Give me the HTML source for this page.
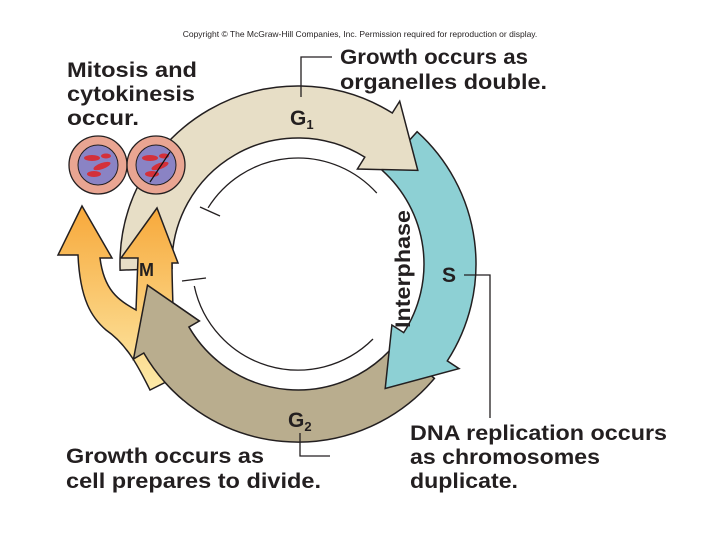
<!DOCTYPE html>
<html><head><meta charset="utf-8"><style>
body{margin:0;background:#fff;width:720px;height:540px;overflow:hidden}
svg{display:block}
text{font-family:"Liberation Sans",sans-serif;font-weight:bold;fill:#231f20}
</style></head><body>
<svg id="s" width="720" height="540" viewBox="0 0 720 540">
<defs>
<linearGradient id="mg" x1="0" y1="0" x2="0" y2="1"><stop offset="0" stop-color="#f7a83a"/><stop offset="1" stop-color="#fdeaa8"/></linearGradient>
</defs>
<g id="bands"></g>
<text x="360" y="37" font-size="8.5" text-anchor="middle" style="font-weight:normal">Copyright © The McGraw-Hill Companies, Inc. Permission required for reproduction or display.</text>
<g font-size="21">
<text x="67" y="77" textLength="130" lengthAdjust="spacingAndGlyphs">Mitosis and</text><text x="67" y="101" textLength="128" lengthAdjust="spacingAndGlyphs">cytokinesis</text><text x="67" y="125" textLength="72" lengthAdjust="spacingAndGlyphs">occur.</text>
<text x="340" y="64" textLength="188" lengthAdjust="spacingAndGlyphs">Growth occurs as</text><text x="340" y="89" textLength="207" lengthAdjust="spacingAndGlyphs">organelles double.</text>
<text x="410" y="440" textLength="257" lengthAdjust="spacingAndGlyphs">DNA replication occurs</text><text x="410" y="464" textLength="190" lengthAdjust="spacingAndGlyphs">as chromosomes</text><text x="410" y="488" textLength="108" lengthAdjust="spacingAndGlyphs">duplicate.</text>
<text x="66" y="463" textLength="198" lengthAdjust="spacingAndGlyphs">Growth occurs as</text><text x="66" y="488" textLength="255" lengthAdjust="spacingAndGlyphs">cell prepares to divide.</text>
<text x="290" y="125">G<tspan font-size="13" dy="4">1</tspan></text>
<text x="288" y="427">G<tspan font-size="13" dy="4">2</tspan></text>
<text x="442" y="282">S</text>
<text x="139" y="276" font-size="18">M</text>
<text transform="translate(410,328) rotate(-90)" font-size="21" textLength="118" lengthAdjust="spacingAndGlyphs">Interphase</text>
</g>
<g stroke="#231f20" stroke-width="1.3" fill="none">
<polyline points="301,97 301,57 332,57"/>
<polyline points="464,275 490,275 490,418"/>
<polyline points="300,433 300,456 330,456"/>
</g>
<g stroke="#231f20" stroke-width="1.3" fill="#e9a592"><circle cx="98" cy="165" r="29"/><circle cx="156" cy="165" r="29"/></g>
<g stroke="#231f20" stroke-width="1" fill="#8a83c4"><circle cx="98" cy="165" r="20"/><circle cx="156" cy="165" r="20"/></g>
<g fill="#d4303a">
<ellipse cx="92" cy="158" rx="8" ry="3"/><ellipse cx="102" cy="166" rx="9" ry="3" transform="rotate(-20 102 166)"/><ellipse cx="94" cy="174" rx="7" ry="3"/><ellipse cx="106" cy="156" rx="5" ry="2.5"/>
<ellipse cx="150" cy="158" rx="8" ry="3"/><ellipse cx="160" cy="166" rx="9" ry="3" transform="rotate(-20 160 166)"/><ellipse cx="152" cy="174" rx="7" ry="3"/><ellipse cx="164" cy="156" rx="5" ry="2.5"/>
</g>
<line x1="170" y1="152" x2="150" y2="182" stroke="#111" stroke-width="1.2"/>
</svg>
<script>
var cx=298,cy=264,R1=126,R2=178;
function P(a,r){var t=a*Math.PI/180;return (cx+r*Math.cos(t)).toFixed(1)+','+(cy+r*Math.sin(t)).toFixed(1);}
function band(a0,a1,h,w,col){
 var b=a1-h,d='M'+P(a0,R2)+' A'+R2+','+R2+' 0 0 1 '+P(b,R2);
 d+=' L'+P(b,R2+w)+' L'+P(a1,(R1+R2)/2)+' L'+P(b,R1-w)+' L'+P(b,R1);
 d+=' A'+R1+','+R1+' 0 0 0 '+P(a0,R1)+' Z';
 return '<path d="'+d+'" fill="'+col+'" stroke="#231f20" stroke-width="1.5"/>';
}
function head(a0,a1,h,w,col){
 var b=a1-h;
 var f='M'+P(a0,R2)+' A'+R2+','+R2+' 0 0 1 '+P(b,R2)+' L'+P(b,R2+w)+' L'+P(a1,(R1+R2)/2)+' L'+P(b,R1-w)+' L'+P(b,R1)+' A'+R1+','+R1+' 0 0 0 '+P(a0,R1)+' Z';
 var o1='M'+P(a0,R2)+' A'+R2+','+R2+' 0 0 1 '+P(b,R2)+' L'+P(b,R2+w)+' L'+P(a1,(R1+R2)/2)+' L'+P(b,R1-w)+' L'+P(b,R1)+' A'+R1+','+R1+' 0 0 0 '+P(a0,R1);
 return '<path d="'+f+'" fill="'+col+'"/><path d="'+o1+'" fill="none" stroke="#231f20" stroke-width="1.5"/>';
}
var g='';
g+=band(40,172,22,12,'#b9ad8e');
g+=band(312,415,22,14,'#8dd0d4');
g+=band(178,322,20,14,'#e7dec6');
var r=106;
g+='<path d="M'+P(212,r)+' A'+r+','+r+' 0 0 1 '+P(318,r)+'" fill="none" stroke="#231f20" stroke-width="1.3"/>';
g+='<path d="M'+P(45,r)+' A'+r+','+r+' 0 0 1 '+P(168,r)+'" fill="none" stroke="#231f20" stroke-width="1.3"/>';
g+='<line x1="200" y1="207" x2="220" y2="216" stroke="#231f20" stroke-width="1.3"/>';
g+='<line x1="182" y1="281" x2="206" y2="278" stroke="#231f20" stroke-width="1.3"/>';
g+='<path d="M150,390 C140,370 128,345 106,330 C92,318 80,300 78,255 L58,255 L82,206 L112,258 L100,258 C104,290 118,300 136,310 L138,258 L121,258 L157,208 L178,263 L172,263 C172,300 176,340 170,380 Z" fill="url(#mg)" stroke="#231f20" stroke-width="1.5"/>';
g+=head(130,172,22,12,'#b9ad8e');
document.getElementById('bands').innerHTML=g;
</script>
</body></html>
